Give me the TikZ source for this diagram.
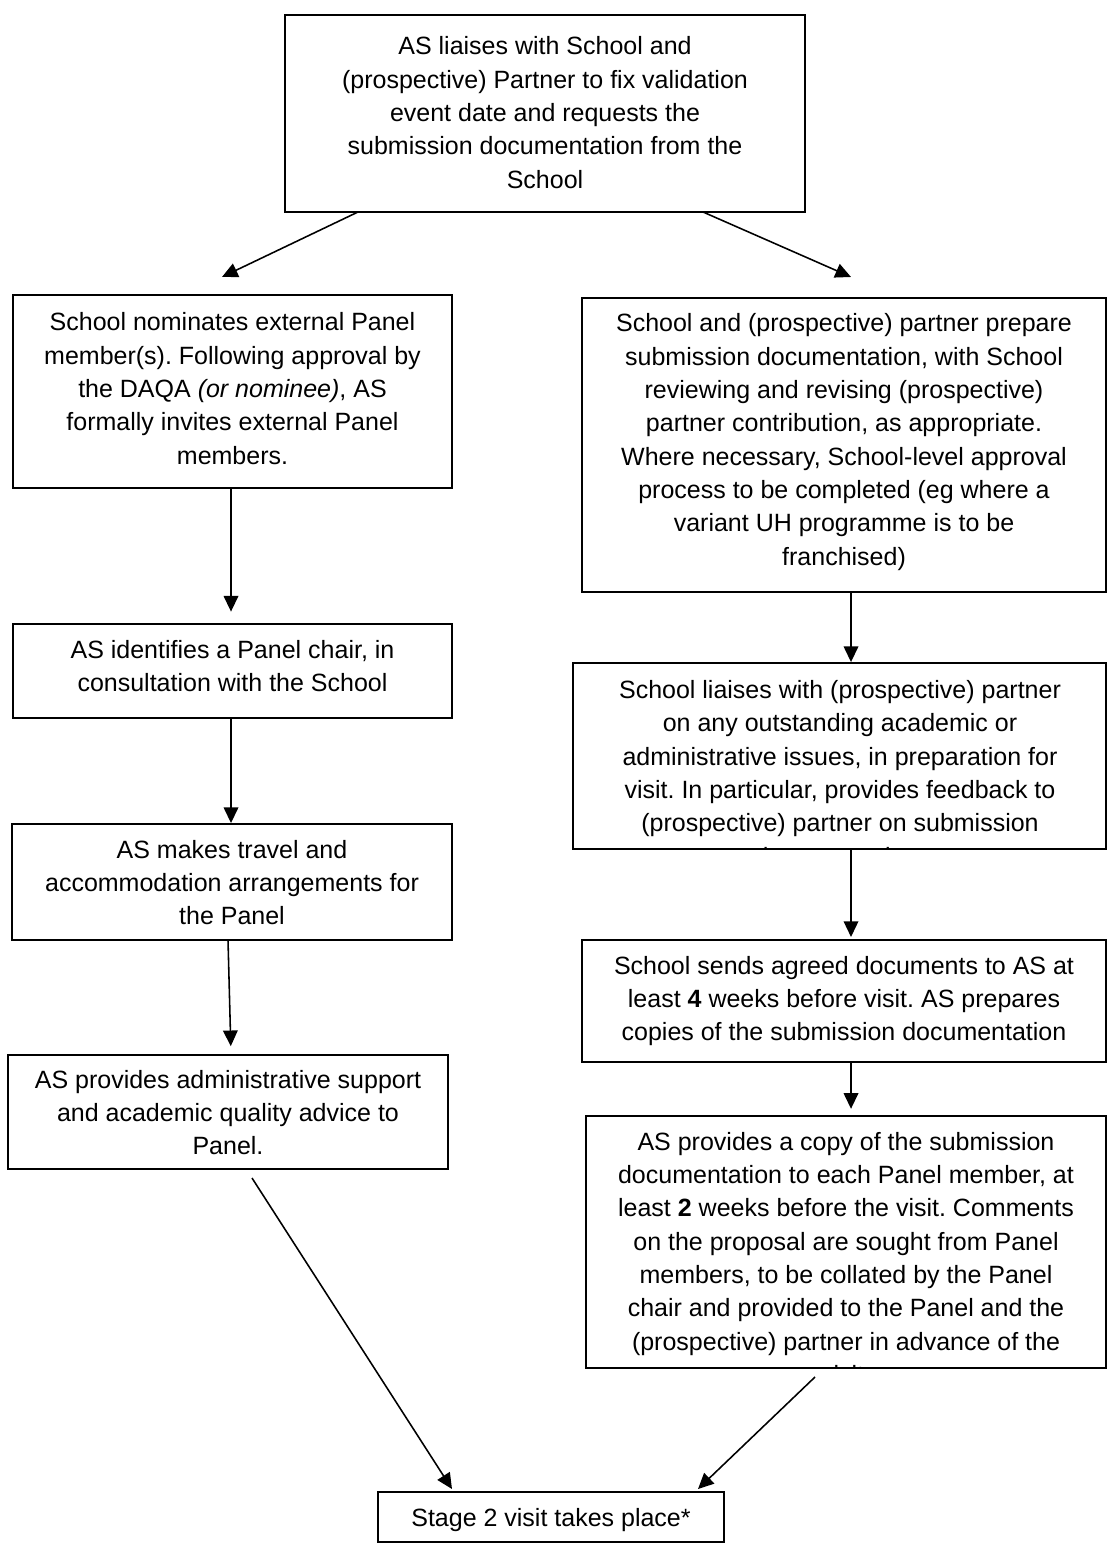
\documentclass[tikz,border=0pt]{standalone}
\usepackage{fontspec}
\setmainfont{Liberation Sans}
\usetikzlibrary{arrows.meta,fit}
\frenchspacing
\tikzset{
  box/.style={draw, line width=0.9pt, inner sep=0pt},
  txt/.style={anchor=base, inner sep=0pt, font=\fontsize{12pt}{16pt}\selectfont},
  arr/.style={-{Triangle[length=7.5pt,width=7pt]}, line width=0.75pt},
}
\newcommand\lines[1]{\parbox[t]{300pt}{\centering\frenchspacing #1}}
\begin{document}
\begin{tikzpicture}[x=0.48pt,y=-0.48pt]
\useasboundingbox (0,0) rectangle (1108,1544);
% boxes
\node[box, fit={(285,15) (805,212)}] (top) {};
\node[box, fit={(13,295) (452,488)}] (A) {};
\node[box, fit={(582,298) (1106,592)}] (B) {};
\node[box, fit={(13,624) (452,718)}] (C) {};
\node[box, fit={(12,824) (452,940)}] (D) {};
\node[box, fit={(8,1055) (448,1169)}] (E) {};
\node[box, fit={(573,663) (1106,849)}] (F) {};
\node[box, fit={(582,940) (1106,1062)}] (G) {};
\node[box, fit={(586,1116) (1106,1368)}] (H) {};
\node[box, fit={(378,1492) (724,1542)}] (I) {};
% texts
\node[txt] (top-t) at (545,55) {\lines{AS liaises with School and\\(prospective) Partner to fix validation\\event date and requests the\\submission documentation from the\\School}};
\node[txt] (A-t) at (232.5,331) {\lines{School nominates external Panel\\member(s). Following approval by\\the DAQA \textit{(or nominee)}, AS\\formally invites external Panel\\members.}};
\node[txt] (B-t) at (844,332) {\lines{School and (prospective) partner prepare\\submission documentation, with School\\reviewing and revising (prospective)\\partner contribution, as appropriate.\\Where necessary, School-level approval\\process to be completed (eg where a\\variant UH programme is to be\\franchised)}};
\node[txt] (C-t) at (232.5,658) {\lines{AS identifies a Panel chair, in\\consultation with the School}};
\node[txt] (D-t) at (232,858) {\lines{AS makes travel and\\accommodation arrangements for\\the Panel}};
\node[txt] (E-t) at (228,1088) {\lines{AS provides administrative support\\and academic quality advice to\\Panel.}};
\begin{scope}
  \clip (F.south west) rectangle (F.north east);
  \node[txt] (F-t) at (840,698.5) {\lines{School liaises with (prospective) partner\\on any outstanding academic or\\administrative issues, in preparation for\\visit. In particular, provides feedback to\\(prospective) partner on submission\\documentation.}};
\end{scope}
\node[txt] (G-t) at (844,974) {\lines{School sends agreed documents to AS at\\least \textbf{4} weeks before visit. AS prepares\\copies of the submission documentation}};
\begin{scope}
  \clip (H.south west) rectangle (H.north east);
  \node[txt] (H-t) at (846,1150) {\lines{AS provides a copy of the submission\\documentation to each Panel member, at\\least \textbf{2} weeks before the visit. Comments\\on the proposal are sought from Panel\\members, to be collated by the Panel\\chair and provided to the Panel and the\\(prospective) partner in advance of the\\visit.}};
\end{scope}
\node[txt] (I-t) at (551,1526) {\lines{Stage 2 visit takes place*}};
% connector helper coordinates
\coordinate (xl) at (231,0);
\coordinate (xr) at (851,0);
\coordinate (top-l) at (358,212);
\coordinate (top-r) at (703,212);
\coordinate (a-in) at (222,277);
\coordinate (b-in) at (851,277);
\coordinate (d-out) at (228,940);
\coordinate (e-out) at (252,1178);
\coordinate (i-l) at (452,1489);
\coordinate (h-out) at (815,1377);
\coordinate (i-r) at (698,1489);
% connectors
\draw[arr] (top-l) -- (a-in);
\draw[arr] (top-r) -- (b-in);
\draw[arr, shorten >=5.5pt] (A.south -| xl) -- (C.north -| xl);
\draw[arr] (C.south -| xl) -- (D.north -| xl);
\draw[arr, shorten >=3.8pt] (d-out) -- (E.north -| xl);
\draw[arr] (B.south -| xr) -- (F.north -| xr);
\draw[arr, shorten >=1pt] (F.south -| xr) -- (G.north -| xr);
\draw[arr, shorten >=3pt] (G.south -| xr) -- (H.north -| xr);
\draw[arr] (e-out) -- (i-l);
\draw[arr] (h-out) -- (i-r);
\end{tikzpicture}
\end{document}
